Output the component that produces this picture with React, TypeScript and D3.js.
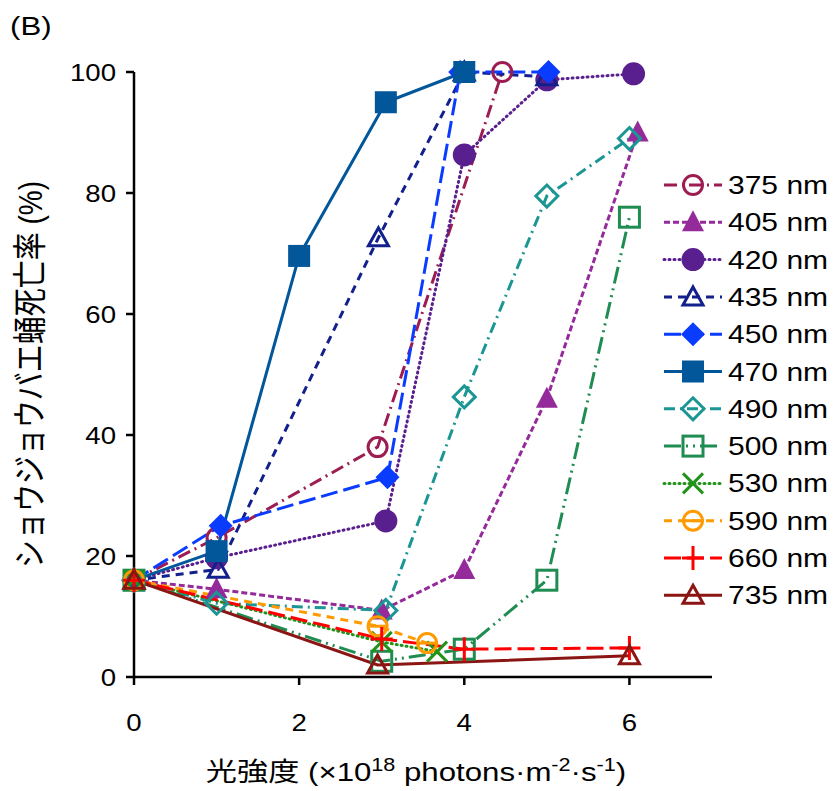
import React from 'react'
import * as d3 from 'd3'

const W = 840, H = 791

// wavelength series (x = light intensity, y = pupal mortality %)
const names = ['375 nm', '405 nm', '420 nm', '435 nm', '450 nm', '470 nm', '490 nm', '500 nm', '530 nm', '590 nm', '660 nm', '735 nm']
const s375 = [[0, 16], [1, 23], [2.95, 38], [4.46, 100]]
const s405 = [[0, 16], [1, 14.5], [3, 11], [4, 17.7], [5, 46], [6.1, 90]]
const s420 = [[0, 16], [1, 19.7], [3.05, 25.8], [4, 86.3], [5, 98.7], [6.05, 99.7]]
const s435 = [[0, 16], [1.02, 17.8], [2.96, 72.6], [4, 100], [5, 99.2]]
const s450 = [[0, 16], [1.05, 25], [3.07, 33], [3.95, 100], [5.02, 100]]
const s470 = [[0, 16], [1, 20.8], [2, 69.6], [3.05, 95], [4, 100]]
const s490 = [[0, 16], [1, 12.2], [3.05, 11], [4, 46.3], [5, 79.5], [6, 89]]
const s500 = [[0, 16], [3, 2.6], [4, 4.6], [5, 16], [6, 76]]
const s530 = [[0, 16], [3, 5.8], [3.67, 4.2]]
const s590 = [[0, 16], [2.95, 8.4], [3.55, 5.6]]
const s660 = [[0, 16], [3, 6.3], [4, 4.6], [6, 4.8]]
const s735 = [[0, 16], [2.95, 2], [6, 3.5]]
const seriesData = [s375, s405, s420, s435, s450, s470, s490, s500, s530, s590, s660, s735]

const colors = ['#9c1d52', '#952a9a', '#5a1f8e', '#12208c', '#0a3cff', '#02569a', '#1b9694', '#1f8c52', '#21931a', '#ff9a00', '#ff0000', '#8a1512']
const dashes = ['13,5,2,5', '6,3', '1,4', '8,6', '17,6', '', '11,5,2,5', '17,5,2,5,2,5', '1,4', '8,6', '17,6', '']
const markers = ['circleOpen', 'triFill', 'circleFill', 'triOpen', 'diamondFill', 'squareFill', 'diamondOpen', 'squareOpen', 'cross', 'circleMinus', 'plus', 'triOpen']

const xTicks = [0, 2, 4, 6]
const yTicks = [0, 20, 40, 60, 80, 100]

const x = d3.scaleLinear().domain([0, 7]).range([134, 712])
const y = d3.scaleLinear().domain([0, 100]).range([677, 72])

const font = '"Liberation Sans", Arial, "Noto Sans CJK JP", sans-serif'
const SX = 1.2 // the original picture is stretched sideways

// text stretched horizontally like the source image
const SText = ({ x, y, size, anchor = 'start', rotate = 0, children }) =>
    <g transform={`translate(${x},${y}) rotate(${rotate}) scale(${rotate ? 1 : SX},${rotate ? SX : 1})`}>
        <text x={0} y={0} fontSize={size} textAnchor={anchor} fill="#000">{children}</text>
    </g>

const Marker = ({ kind, cx, cy, color }) => {
    const sw = 3
    if (kind === 'circleOpen') return <circle cx={cx} cy={cy} r={9.5} fill="none" stroke={color} strokeWidth={sw} />
    if (kind === 'circleFill') return <circle cx={cx} cy={cy} r={11.5} fill={color} />
    if (kind === 'circleMinus') return <g>
        <circle cx={cx} cy={cy} r={9.5} fill="none" stroke={color} strokeWidth={sw} />
        <line x1={cx - 8} x2={cx + 8} y1={cy} y2={cy} stroke={color} strokeWidth={sw} />
    </g>
    if (kind === 'triFill') return <path d={`M${cx},${cy - 12}L${cx + 11},${cy + 9}L${cx - 11},${cy + 9}Z`} fill={color} />
    if (kind === 'triOpen') return <path d={`M${cx},${cy - 10}L${cx + 10},${cy + 8}L${cx - 10},${cy + 8}Z`} fill="none" stroke={color} strokeWidth={sw} />
    if (kind === 'diamondFill') return <path d={`M${cx},${cy - 12}L${cx + 12},${cy}L${cx},${cy + 12}L${cx - 12},${cy}Z`} fill={color} />
    if (kind === 'diamondOpen') return <path d={`M${cx},${cy - 11}L${cx + 11},${cy}L${cx},${cy + 11}L${cx - 11},${cy}Z`} fill="none" stroke={color} strokeWidth={sw} />
    if (kind === 'squareFill') return <rect x={cx - 11} y={cy - 11} width={22} height={22} fill={color} />
    if (kind === 'squareOpen') return <rect x={cx - 10} y={cy - 10} width={20} height={20} fill="none" stroke={color} strokeWidth={sw} />
    if (kind === 'cross') return <path d={`M${cx - 10},${cy - 10}L${cx + 10},${cy + 10}M${cx + 10},${cy - 10}L${cx - 10},${cy + 10}`} stroke={color} strokeWidth={sw} />
    if (kind === 'plus') return <path d={`M${cx - 11},${cy}L${cx + 11},${cy}M${cx},${cy - 12}L${cx},${cy + 12}`} stroke={color} strokeWidth={sw} />
    return null
}

const line = d3.line().x(d => x(d[0])).y(d => y(d[1]))

export default function App() {
    const legendX = 664, legendY0 = 185, legendStep = 37.3
    return (
        <svg width={W} height={H} style={{ position: 'absolute', left: 0, top: 0, fontFamily: font }}>
            <rect width={W} height={H} fill="#fff" />
            <SText x={10} y={35} size={26}>(B)</SText>

            {/* axes */}
            <line x1={x(0)} x2={x(0)} y1={y(0) + 1} y2={y(100)} stroke="#000" strokeWidth={2.5} />
            <line x1={x(0) - 1} x2={x(7)} y1={y(0)} y2={y(0)} stroke="#000" strokeWidth={2.5} />
            {yTicks.map(t => <g key={'y' + t}>
                <line x1={x(0) - 8} x2={x(0)} y1={y(t)} y2={y(t)} stroke="#000" strokeWidth={2.5} />
                <SText x={x(0) - 18} y={y(t) + 8.5} size={23} anchor="end">{t}</SText>
            </g>)}
            {xTicks.map(t => <g key={'x' + t}>
                <line x1={x(t)} x2={x(t)} y1={y(0)} y2={y(0) + 8} stroke="#000" strokeWidth={2.5} />
                <SText x={x(t)} y={y(0) + 54} size={23} anchor="middle">{t}</SText>
            </g>)}

            <SText x={42} y={y(50)} size={28} anchor="middle" rotate={-90}>ショウジョウバエ蛹死亡率 (%)</SText>
            <SText x={416} y={781} size={26} anchor="middle">
                光強度 (×10<tspan fontSize={18} dy={-10}>18</tspan><tspan dy={10}> photons·m</tspan><tspan fontSize={18} dy={-10}>-2</tspan><tspan dy={10}>·s</tspan><tspan fontSize={18} dy={-10}>-1</tspan><tspan dy={10}>)</tspan>
            </SText>

            {/* series */}
            {seriesData.map((s, i) => <path key={'l' + i} d={line(s)} fill="none" stroke={colors[i]} strokeWidth={3}
                strokeDasharray={dashes[i] || undefined} strokeLinecap={dashes[i] === '1,4' ? 'round' : 'butt'} />)}
            {seriesData.map((s, i) => <g key={'m' + i}>
                {s.map((d, j) => <Marker key={j} kind={markers[i]} cx={x(d[0])} cy={y(d[1])} color={colors[i]} />)}
            </g>)}

            {/* legend */}
            {names.map((n, i) => {
                const ly = legendY0 + i * legendStep
                return <g key={'lg' + i}>
                    <line x1={legendX} x2={legendX + 58} y1={ly} y2={ly} stroke={colors[i]} strokeWidth={3}
                        strokeDasharray={dashes[i] || undefined} strokeLinecap={dashes[i] === '1,4' ? 'round' : 'butt'} />
                    <Marker kind={markers[i]} cx={legendX + 29} cy={ly} color={colors[i]} />
                    <SText x={legendX + 64} y={ly + 9} size={25}>{n}</SText>
                </g>
            })}
        </svg>
    )
}
